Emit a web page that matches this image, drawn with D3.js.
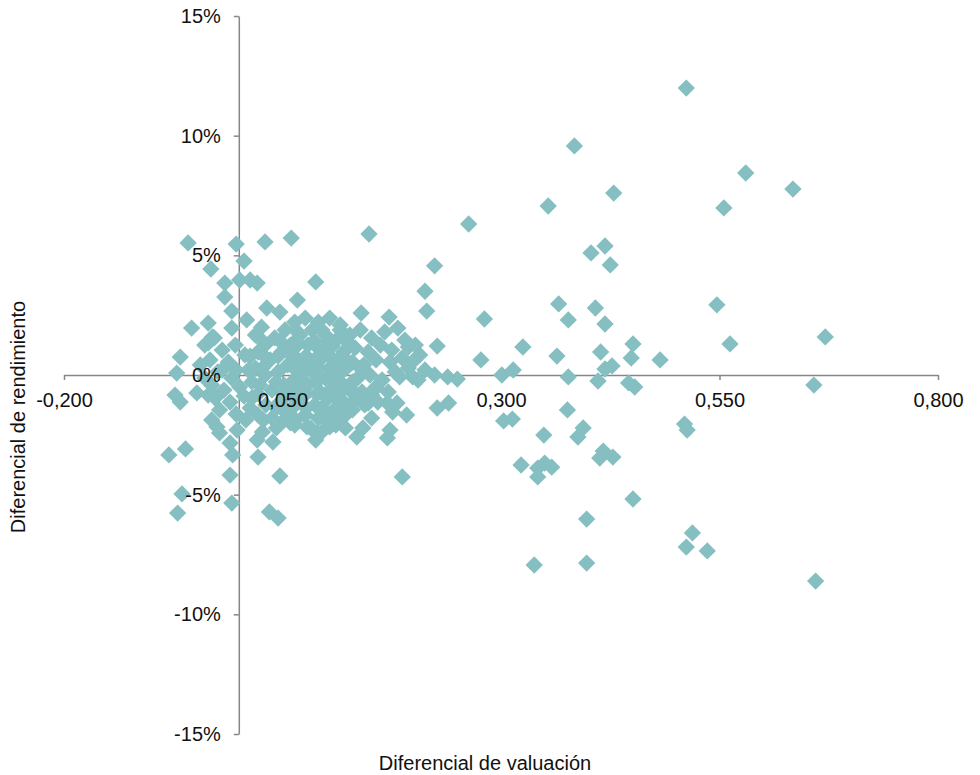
<!DOCTYPE html>
<html lang="es">
<head>
    <meta charset="UTF-8">
    <title>Diferencial de valuación vs rendimiento</title>
    <script src="https://d3js.org/d3.v7.min.js"></script>
    <style>
body { margin: 0; background: #fff; }
text { font-family: "Liberation Sans", Arial, sans-serif; fill: #111; }
.axis path, .axis line { stroke: #878787; stroke-width: 1.5; }
    </style>
</head>
<body>
    <svg width="980" height="775"></svg>
    <script>
        // Ticks
        const xTicks = [-0.2, 0.05, 0.3, 0.55, 0.8];
        const yTicks = [-15, -10, -5, 0, 5, 10, 15];

        // Diferencial de valuación (x) y de rendimiento en % (y), mismo orden
        const valuacion = [
            0.512, 0.384, 0.580, 0.634, 0.429, 0.354, 0.555, 0.419, 0.403, 0.425,
            0.366, 0.408, 0.547, 0.377, 0.419, 0.671, 0.562, 0.451, 0.414, 0.449,
            0.482, 0.427, 0.419, 0.411, 0.446, 0.453, 0.658, 0.510, 0.513, 0.417,
            0.413, 0.428, 0.451, 0.398, 0.519, 0.512, 0.536, 0.398, 0.660, 0.263,
            0.224, 0.213, 0.215, 0.281, 0.227, 0.325, 0.364, 0.277, 0.224, 0.239,
            0.250, 0.301, 0.314, 0.377, 0.227, 0.240, 0.303, 0.313, 0.376, 0.349,
            0.394, 0.388, 0.323, 0.342, 0.350, 0.358, 0.342, 0.338, 0.187, 0.170,
            0.173, 0.192, 0.176, 0.181, 0.170, 0.199, 0.184, 0.157, 0.148, 0.089,
            0.104, 0.078, 0.059, 0.121, 0.133, 0.152, 0.149, 0.088, 0.067, 0.060,
            0.140, 0.172, 0.194, -0.058, -0.003, 0.030, -0.032, 0.006, -0.016, 0.001,
            0.013, 0.021, -0.016, -0.008, 0.032, 0.047, -0.054, -0.035, -0.008, 0.009,
            0.026, -0.030, -0.035, -0.067, -0.071, -0.073, -0.067, -0.048, -0.031, -0.080,
            -0.061, -0.010, 0.047, -0.065, -0.008, -0.070, 0.035, 0.045, -0.022, -0.010,
            -0.007, 0.022, 0.039, 0.021, -0.002, -0.025, 0.028, 0.135, 0.142, 0.152,
            // nube central
            -0.039, -0.028, -0.019, -0.033, -0.012, -0.024, -0.008, -0.031, -0.017, 0.001,
            -0.027, -0.010, 0.006, -0.022, -0.003, 0.008, -0.039, -0.044, -0.004, 0.007,
            0.011,
            0.019, 0.030, 0.041, 0.053, 0.022, 0.036, 0.049, 0.059, 0.019, 0.030,
            0.045, 0.056, 0.024, 0.038, 0.052, 0.015, 0.031, 0.047, 0.059, 0.022,
            0.038, 0.053, 0.064, 0.027, 0.043,
            0.064, 0.076, 0.091, 0.104, 0.116, 0.070, 0.084, 0.099, 0.114, 0.064,
            0.079, 0.093, 0.107, 0.120, 0.068, 0.082, 0.095, 0.110, 0.070, 0.084,
            0.099, 0.114, 0.065, 0.079, 0.093, 0.107, 0.120, 0.070, 0.087, 0.102,
            0.116, 0.076, 0.091, 0.107, 0.122, 0.082, 0.095, 0.111, 0.088,
            0.127, 0.139, 0.152, 0.167, 0.182, 0.133, 0.148, 0.162, 0.175, 0.190,
            0.202, 0.130, 0.143, 0.157, 0.173, 0.187, 0.201, 0.136, 0.150, 0.164,
            0.179, 0.194, 0.127, 0.141, 0.156, 0.171, 0.144, 0.159, 0.130, 0.122,
            0.207, 0.213, 0.205,
            0.027, 0.047, 0.065, 0.086, 0.102, 0.123,
            0.013, 0.029, 0.045, 0.061, 0.077, 0.091, 0.104, 0.118,
            0.027, 0.063, 0.077, 0.091, 0.104, 0.123, 0.139,
            0.015, 0.043, 0.061, 0.075, 0.089, 0.114, 0.130,
            0.022, 0.052, 0.077, 0.089, 0.114, 0.134,
            0.013, 0.043, 0.061, 0.077, 0.095, 0.111,
            0.052, 0.065, 0.100, 0.114,
            0.065, 0.095, 0.116,
            -0.003, -0.019, -0.035
        ];
        const rendimiento = [
            11.99, 9.57, 8.44, 7.77, 7.60, 7.06, 6.98, 5.39, 5.10, 4.60,
            2.97, 2.80, 2.93, 2.30, 2.13, 1.59, 1.30, 1.30, 0.96, 0.71,
            0.63, 0.38, 0.25, -0.25, -0.33, -0.50, -0.42, -2.05, -2.30, -3.18,
            -3.47, -3.43, -5.18, -6.02, -6.60, -7.19, -7.35, -7.86, -8.61, 6.31,
            4.56, 3.50, 2.67, 2.34, 1.21, 1.17, 0.79, 0.63, 0.00, -0.08,
            -0.17, 0.00, 0.21, -0.08, -1.38, -1.17, -1.92, -1.84, -1.46, -2.51,
            -2.21, -2.59, -3.76, -3.89, -3.68, -3.85, -4.26, -7.94, -4.26, -2.63,
            -2.30, -1.67, -1.55, -1.17, -1.17, -0.08, -0.08, -0.54, -1.17, -2.42,
            -2.17, -2.17, -2.00, -1.17, -1.04, -0.84, 5.89, 3.89, 3.13, 5.72,
            2.59, 2.42, 1.17, 5.52, 5.47, 5.56, 4.43, 4.76, 3.84, 3.97,
            3.97, 3.84, 3.26, 2.67, 2.80, 2.63, 1.96, 2.17, 1.96, 2.30,
            2.00, 1.59, 1.34, 0.75, 0.08, -0.84, -1.13, -0.75, -1.88, -3.34,
            -3.09, -4.18, -4.22, -4.97, -5.35, -5.77, -5.72, -5.98, -2.42, -2.84,
            -3.34, -3.43, -2.80, -2.72, -2.30, -2.17, -1.88, -2.59, -2.21, -1.80,
            // nube central
            1.25, 1.55, 1.04, 0.63, 0.54, 0.13, -0.13, -0.42, -0.63, -0.50,
            -0.96, -1.13, -0.88, -1.46, -1.63, -1.88, -0.13, 0.42, 1.25, 0.84,
            0.21,
            1.67, 1.25, 1.55, 1.88, 0.96, 0.63, 0.96, 1.25, 0.29, 0.00,
            0.13, 0.42, -0.42, -0.63, -0.42, -0.96, -1.25, -1.13, -0.84, -1.67,
            -1.80, -1.55, -2.09, -2.38, -2.21,
            2.21, 2.38, 2.21, 2.38, 2.09, 1.67, 1.88, 1.67, 1.55, 1.13,
            1.25, 1.04, 1.21, 0.96, 0.63, 0.54, 0.71, 0.42, 0.00, 0.13,
            -0.13, 0.00, -0.54, -0.42, -0.71, -0.54, -0.42, -1.04, -1.25, -0.96,
            -1.13, -1.67, -1.80, -1.55, -1.67, -2.21, -2.38, -2.09, -2.72,
            1.67, 1.88, 1.55, 1.80, 1.96, 1.13, 0.96, 1.25, 1.04, 1.46,
            1.25, 0.54, 0.42, 0.63, 0.54, 0.71, 0.63, -0.13, 0.00, -0.21,
            0.13, 0.29, -0.63, -0.71, -0.54, -0.71, -1.25, -1.13, -1.46, -2.21,
            0.84, 0.21, -0.21,
            1.42, 1.42, 1.42, 1.42, 1.42, 1.42,
            0.79, 0.79, 0.79, 0.79, 0.79, 0.79, 0.79, 0.79,
            0.29, 0.29, 0.29, 0.29, 0.29, 0.29, 0.29,
            -0.29, -0.29, -0.29, -0.29, -0.29, -0.29, -0.29,
            -0.79, -0.79, -0.79, -0.79, -0.79, -0.79,
            -1.38, -1.38, -1.38, -1.38, -1.38, -1.38,
            -1.88, -1.88, -1.88, -1.88,
            1.88, 1.88, 1.88,
            0.21, 0.21, -0.84
        ];

        const data = valuacion.map((v, i) => ({x: v, y: rendimiento[i]}));

        const svg = d3.select("svg");

        //Scale
        const xScale = d3.scaleLinear().domain([-0.2, 0.8]).range([64, 938]);
        const yScale = d3.scaleLinear().domain([-15, 15]).range([734, 16]);

        const es = d3.formatLocale({decimal: ",", thousands: ".", grouping: [3], currency: ["$", ""], minus: "-"});
        const xFormat = es.format(".3f");

        const xAxis = d3.axisBottom(xScale).tickValues(xTicks).tickFormat(xFormat)
                        .tickSize(5).tickSizeOuter(0).tickPadding(13);
        const yAxis = d3.axisLeft(yScale).tickValues(yTicks).tickFormat(d => d + "%")
                        .tickSize(5).tickSizeOuter(0).tickPadding(13);

        // axis lines under the points
        const lines = svg.append("g");
        lines.append("g").attr("class", "axis")
             .attr("transform", `translate(0,${yScale(0)})`)
             .call(xAxis).selectAll("text").remove();
        lines.append("g").attr("class", "axis")
             .attr("transform", `translate(${xScale(0)},0)`)
             .call(yAxis).selectAll("text").remove();

        //Points
        const diamond = d3.symbol().type(d3.symbolSquare).size(150);
        svg.append("g")
           .selectAll("path")
           .data(data)
           .join("path")
           .attr("d", diamond)
           .attr("transform", d => `translate(${xScale(d.x)},${yScale(d.y)}) rotate(45)`)
           .attr("fill", "#85bfc1");

        // tick labels on top
        const labels = svg.append("g");
        const gx = labels.append("g")
             .attr("transform", `translate(0,${yScale(0)})`)
             .call(xAxis);
        gx.selectAll("path, line").remove();
        gx.selectAll("text").attr("font-size", 20).attr("font-family", null);
        const gy = labels.append("g")
             .attr("transform", `translate(${xScale(0)},0)`)
             .call(yAxis);
        gy.selectAll("path, line").remove();
        gy.selectAll("text").attr("font-size", 20).attr("font-family", null);

        // Axis titles
        svg.append("text")
           .attr("x", 485).attr("y", 770)
           .attr("text-anchor", "middle")
           .attr("font-size", 20)
           .text("Diferencial de valuación");
        svg.append("text")
           .attr("transform", "translate(25,417) rotate(-90)")
           .attr("text-anchor", "middle")
           .attr("font-size", 20)
           .text("Diferencial de rendimiento");
    </script>
</body>
</html>
